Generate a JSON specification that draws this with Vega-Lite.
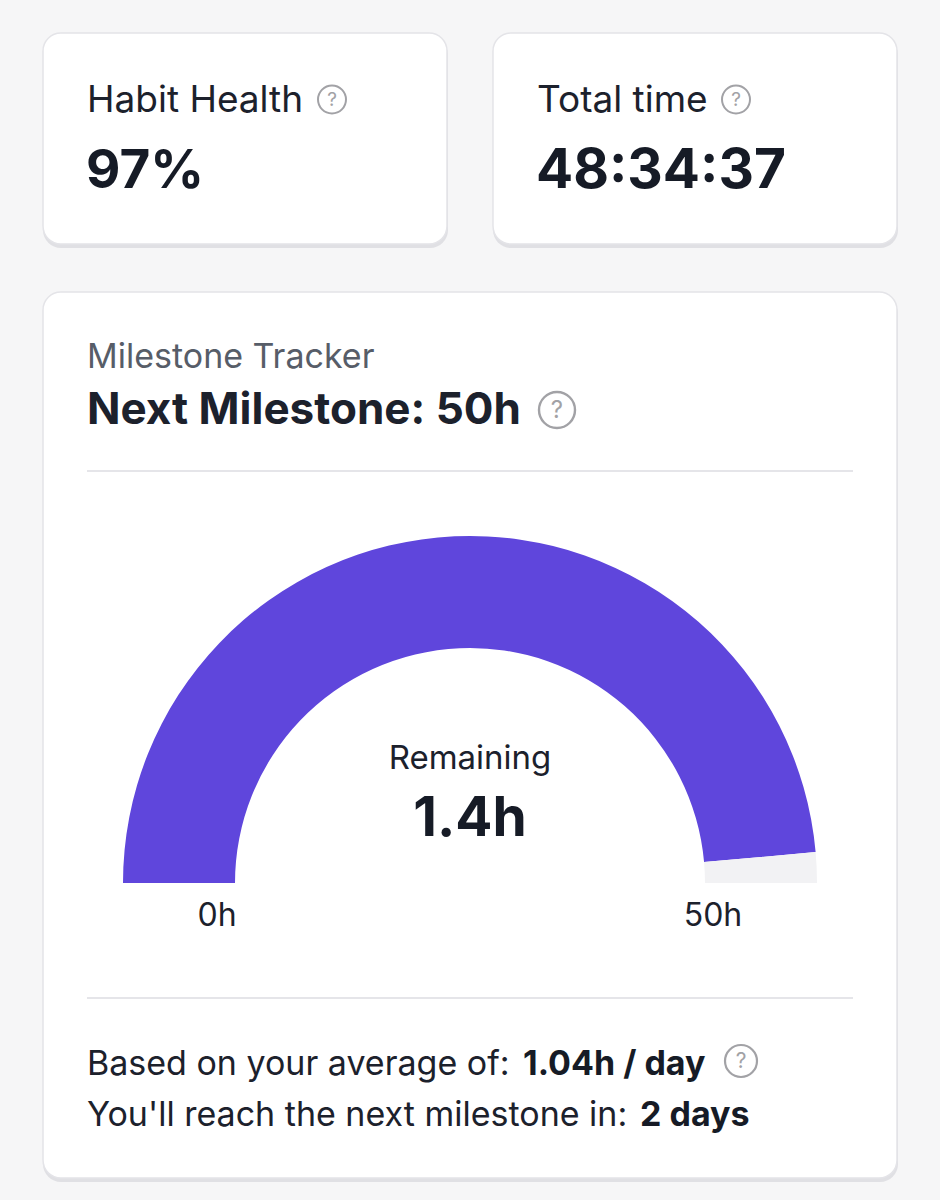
{
  "$schema": "https://vega.github.io/schema/vega-lite/v6.json",
  "width": 940,
  "height": 1200,
  "padding": 0,
  "autosize": {"type": "fit", "contains": "padding"},
  "background": "#f6f6f7",
  "config": {"view": {"stroke": null}, "font": "Inter", "text": {"font": "Inter"}},
  "data": {"values": [{"habit_health": "97%", "total_time": "48:34:37", "next_milestone": "Next Milestone: 50h", "remaining": "1.4h", "average": "1.04h / day", "eta": "2 days"}]},
  "layer": [
    {"mark": {"type": "rect", "fill": "#e0e0e4", "cornerRadius": 18},
     "encoding": {
       "x": {"datum": 43, "type": "quantitative", "scale": {"domain": [0, 940], "nice": false, "zero": false}, "axis": null},
       "x2": {"datum": 448},
       "y": {"datum": 37, "type": "quantitative", "scale": {"domain": [0, 1200], "nice": false, "zero": false, "reverse": true}, "axis": null},
       "y2": {"datum": 248}}},
    {"mark": {"type": "rect", "fill": "#e0e0e4", "cornerRadius": 18},
     "encoding": {
       "x": {"datum": 493, "type": "quantitative", "scale": {"domain": [0, 940], "nice": false, "zero": false}, "axis": null},
       "x2": {"datum": 898},
       "y": {"datum": 37, "type": "quantitative", "scale": {"domain": [0, 1200], "nice": false, "zero": false, "reverse": true}, "axis": null},
       "y2": {"datum": 248}}},
    {"mark": {"type": "rect", "fill": "#e0e0e4", "cornerRadius": 18},
     "encoding": {
       "x": {"datum": 43, "type": "quantitative", "scale": {"domain": [0, 940], "nice": false, "zero": false}, "axis": null},
       "x2": {"datum": 898},
       "y": {"datum": 296, "type": "quantitative", "scale": {"domain": [0, 1200], "nice": false, "zero": false, "reverse": true}, "axis": null},
       "y2": {"datum": 1182}}},
    {"mark": {"type": "rect", "fill": "#ffffff", "stroke": "#e4e4e8", "strokeWidth": 1.5, "cornerRadius": 18},
     "encoding": {
       "x": {"datum": 43, "type": "quantitative", "scale": {"domain": [0, 940], "nice": false, "zero": false}, "axis": null},
       "x2": {"datum": 447},
       "y": {"datum": 33, "type": "quantitative", "scale": {"domain": [0, 1200], "nice": false, "zero": false, "reverse": true}, "axis": null},
       "y2": {"datum": 244}}},
    {"mark": {"type": "rect", "fill": "#ffffff", "stroke": "#e4e4e8", "strokeWidth": 1.5, "cornerRadius": 18},
     "encoding": {
       "x": {"datum": 493, "type": "quantitative", "scale": {"domain": [0, 940], "nice": false, "zero": false}, "axis": null},
       "x2": {"datum": 897},
       "y": {"datum": 33, "type": "quantitative", "scale": {"domain": [0, 1200], "nice": false, "zero": false, "reverse": true}, "axis": null},
       "y2": {"datum": 244}}},
    {"mark": {"type": "rect", "fill": "#ffffff", "stroke": "#e4e4e8", "strokeWidth": 1.5, "cornerRadius": 18},
     "encoding": {
       "x": {"datum": 43, "type": "quantitative", "scale": {"domain": [0, 940], "nice": false, "zero": false}, "axis": null},
       "x2": {"datum": 897},
       "y": {"datum": 292, "type": "quantitative", "scale": {"domain": [0, 1200], "nice": false, "zero": false, "reverse": true}, "axis": null},
       "y2": {"datum": 1178}}},
    {"mark": {"type": "rule", "stroke": "#e5e5e9", "strokeWidth": 2},
     "encoding": {
       "x": {"datum": 87, "type": "quantitative", "scale": {"domain": [0, 940], "nice": false, "zero": false}, "axis": null},
       "x2": {"datum": 853},
       "y": {"datum": 471, "type": "quantitative", "scale": {"domain": [0, 1200], "nice": false, "zero": false, "reverse": true}, "axis": null}}},
    {"mark": {"type": "rule", "stroke": "#e5e5e9", "strokeWidth": 2},
     "encoding": {
       "x": {"datum": 87, "type": "quantitative", "scale": {"domain": [0, 940], "nice": false, "zero": false}, "axis": null},
       "x2": {"datum": 853},
       "y": {"datum": 998, "type": "quantitative", "scale": {"domain": [0, 1200], "nice": false, "zero": false, "reverse": true}, "axis": null}}},
    {"data": {"values": [{"part": "Completed", "hours": 48.58, "rank": 1}, {"part": "Remaining", "hours": 1.42, "rank": 2}]},
     "mark": {"type": "arc", "radius": 347, "radius2": 235},
     "encoding": {
       "x": {"datum": 470, "type": "quantitative", "scale": {"domain": [0, 940], "nice": false, "zero": false}, "axis": null},
       "y": {"datum": 883, "type": "quantitative", "scale": {"domain": [0, 1200], "nice": false, "zero": false, "reverse": true}, "axis": null},
       "theta": {"field": "hours", "type": "quantitative", "stack": true, "scale": {"domain": [0, 50], "range": [-1.5708, 1.5708], "zero": true, "nice": false}},
       "order": {"field": "rank", "type": "quantitative"},
       "color": {"field": "part", "type": "nominal", "scale": {"domain": ["Completed", "Remaining"], "range": ["#5f46dc", "#f2f2f4"]}, "legend": null}}},
    {"mark": {"type": "text", "text": "Habit Health", "fontSize": 37, "color": "#1c212c", "align": "left", "baseline": "alphabetic"},
     "encoding": {
       "x": {"datum": 87, "type": "quantitative", "scale": {"domain": [0, 940], "nice": false, "zero": false}, "axis": null},
       "y": {"datum": 112, "type": "quantitative", "scale": {"domain": [0, 1200], "nice": false, "zero": false, "reverse": true}, "axis": null}}},
    {"mark": {"type": "text", "fontSize": 53, "fontWeight": "bold", "color": "#161b26", "align": "left", "baseline": "alphabetic"},
     "encoding": {
       "text": {"field": "habit_health"},
       "x": {"datum": 86, "type": "quantitative", "scale": {"domain": [0, 940], "nice": false, "zero": false}, "axis": null},
       "y": {"datum": 188, "type": "quantitative", "scale": {"domain": [0, 1200], "nice": false, "zero": false, "reverse": true}, "axis": null}}},
    {"mark": {"type": "text", "text": "Total time", "fontSize": 37, "color": "#1c212c", "align": "left", "baseline": "alphabetic"},
     "encoding": {
       "x": {"datum": 537, "type": "quantitative", "scale": {"domain": [0, 940], "nice": false, "zero": false}, "axis": null},
       "y": {"datum": 112, "type": "quantitative", "scale": {"domain": [0, 1200], "nice": false, "zero": false, "reverse": true}, "axis": null}}},
    {"mark": {"type": "text", "fontSize": 55, "fontWeight": "bold", "color": "#161b26", "align": "left", "baseline": "alphabetic"},
     "encoding": {
       "text": {"field": "total_time"},
       "x": {"datum": 536, "type": "quantitative", "scale": {"domain": [0, 940], "nice": false, "zero": false}, "axis": null},
       "y": {"datum": 188, "type": "quantitative", "scale": {"domain": [0, 1200], "nice": false, "zero": false, "reverse": true}, "axis": null}}},
    {"mark": {"type": "text", "text": "Milestone Tracker", "fontSize": 34, "color": "#575d68", "align": "left", "baseline": "alphabetic"},
     "encoding": {
       "x": {"datum": 87, "type": "quantitative", "scale": {"domain": [0, 940], "nice": false, "zero": false}, "axis": null},
       "y": {"datum": 368, "type": "quantitative", "scale": {"domain": [0, 1200], "nice": false, "zero": false, "reverse": true}, "axis": null}}},
    {"mark": {"type": "text", "fontSize": 44, "fontWeight": "bold", "color": "#1c212c", "align": "left", "baseline": "alphabetic"},
     "encoding": {
       "text": {"field": "next_milestone"},
       "x": {"datum": 87, "type": "quantitative", "scale": {"domain": [0, 940], "nice": false, "zero": false}, "axis": null},
       "y": {"datum": 424, "type": "quantitative", "scale": {"domain": [0, 1200], "nice": false, "zero": false, "reverse": true}, "axis": null}}},
    {"mark": {"type": "text", "text": "Remaining", "fontSize": 33, "color": "#1c212c", "align": "center", "baseline": "alphabetic"},
     "encoding": {
       "x": {"datum": 470, "type": "quantitative", "scale": {"domain": [0, 940], "nice": false, "zero": false}, "axis": null},
       "y": {"datum": 769, "type": "quantitative", "scale": {"domain": [0, 1200], "nice": false, "zero": false, "reverse": true}, "axis": null}}},
    {"mark": {"type": "text", "fontSize": 55, "fontWeight": "bold", "color": "#161b26", "align": "center", "baseline": "alphabetic"},
     "encoding": {
       "text": {"field": "remaining"},
       "x": {"datum": 470, "type": "quantitative", "scale": {"domain": [0, 940], "nice": false, "zero": false}, "axis": null},
       "y": {"datum": 836, "type": "quantitative", "scale": {"domain": [0, 1200], "nice": false, "zero": false, "reverse": true}, "axis": null}}},
    {"mark": {"type": "text", "text": "0h", "fontSize": 32, "color": "#1c212c", "align": "center", "baseline": "alphabetic"},
     "encoding": {
       "x": {"datum": 217, "type": "quantitative", "scale": {"domain": [0, 940], "nice": false, "zero": false}, "axis": null},
       "y": {"datum": 926, "type": "quantitative", "scale": {"domain": [0, 1200], "nice": false, "zero": false, "reverse": true}, "axis": null}}},
    {"mark": {"type": "text", "text": "50h", "fontSize": 32, "color": "#1c212c", "align": "center", "baseline": "alphabetic"},
     "encoding": {
       "x": {"datum": 713, "type": "quantitative", "scale": {"domain": [0, 940], "nice": false, "zero": false}, "axis": null},
       "y": {"datum": 926, "type": "quantitative", "scale": {"domain": [0, 1200], "nice": false, "zero": false, "reverse": true}, "axis": null}}},
    {"mark": {"type": "text", "text": "Based on your average of:", "fontSize": 34, "color": "#1c212c", "align": "left", "baseline": "alphabetic"},
     "encoding": {
       "x": {"datum": 87, "type": "quantitative", "scale": {"domain": [0, 940], "nice": false, "zero": false}, "axis": null},
       "y": {"datum": 1075, "type": "quantitative", "scale": {"domain": [0, 1200], "nice": false, "zero": false, "reverse": true}, "axis": null}}},
    {"mark": {"type": "text", "fontSize": 34, "fontWeight": "bold", "color": "#161b26", "align": "left", "baseline": "alphabetic"},
     "encoding": {
       "text": {"field": "average"},
       "x": {"datum": 523, "type": "quantitative", "scale": {"domain": [0, 940], "nice": false, "zero": false}, "axis": null},
       "y": {"datum": 1075, "type": "quantitative", "scale": {"domain": [0, 1200], "nice": false, "zero": false, "reverse": true}, "axis": null}}},
    {"mark": {"type": "text", "text": "You'll reach the next milestone in:", "fontSize": 34, "color": "#1c212c", "align": "left", "baseline": "alphabetic"},
     "encoding": {
       "x": {"datum": 87, "type": "quantitative", "scale": {"domain": [0, 940], "nice": false, "zero": false}, "axis": null},
       "y": {"datum": 1126, "type": "quantitative", "scale": {"domain": [0, 1200], "nice": false, "zero": false, "reverse": true}, "axis": null}}},
    {"mark": {"type": "text", "fontSize": 34, "fontWeight": "bold", "color": "#161b26", "align": "left", "baseline": "alphabetic"},
     "encoding": {
       "text": {"field": "eta"},
       "x": {"datum": 640, "type": "quantitative", "scale": {"domain": [0, 940], "nice": false, "zero": false}, "axis": null},
       "y": {"datum": 1126, "type": "quantitative", "scale": {"domain": [0, 1200], "nice": false, "zero": false, "reverse": true}, "axis": null}}},
    {"mark": {"type": "point", "shape": "circle", "filled": false, "stroke": "#a2a2a6", "strokeWidth": 2, "size": 784, "opacity": 1},
     "encoding": {
       "x": {"datum": 332, "type": "quantitative", "scale": {"domain": [0, 940], "nice": false, "zero": false}, "axis": null},
       "y": {"datum": 99.5, "type": "quantitative", "scale": {"domain": [0, 1200], "nice": false, "zero": false, "reverse": true}, "axis": null}}},
    {"mark": {"type": "text", "text": "?", "fontSize": 19, "color": "#a2a2a6", "align": "center", "baseline": "middle"},
     "encoding": {
       "x": {"datum": 332, "type": "quantitative", "scale": {"domain": [0, 940], "nice": false, "zero": false}, "axis": null},
       "y": {"datum": 100, "type": "quantitative", "scale": {"domain": [0, 1200], "nice": false, "zero": false, "reverse": true}, "axis": null}}},
    {"mark": {"type": "point", "shape": "circle", "filled": false, "stroke": "#a2a2a6", "strokeWidth": 2, "size": 784, "opacity": 1},
     "encoding": {
       "x": {"datum": 736, "type": "quantitative", "scale": {"domain": [0, 940], "nice": false, "zero": false}, "axis": null},
       "y": {"datum": 99.5, "type": "quantitative", "scale": {"domain": [0, 1200], "nice": false, "zero": false, "reverse": true}, "axis": null}}},
    {"mark": {"type": "text", "text": "?", "fontSize": 19, "color": "#a2a2a6", "align": "center", "baseline": "middle"},
     "encoding": {
       "x": {"datum": 736, "type": "quantitative", "scale": {"domain": [0, 940], "nice": false, "zero": false}, "axis": null},
       "y": {"datum": 100, "type": "quantitative", "scale": {"domain": [0, 1200], "nice": false, "zero": false, "reverse": true}, "axis": null}}},
    {"mark": {"type": "point", "shape": "circle", "filled": false, "stroke": "#a2a2a6", "strokeWidth": 2.4, "size": 1296, "opacity": 1},
     "encoding": {
       "x": {"datum": 557, "type": "quantitative", "scale": {"domain": [0, 940], "nice": false, "zero": false}, "axis": null},
       "y": {"datum": 410, "type": "quantitative", "scale": {"domain": [0, 1200], "nice": false, "zero": false, "reverse": true}, "axis": null}}},
    {"mark": {"type": "text", "text": "?", "fontSize": 24, "color": "#a2a2a6", "align": "center", "baseline": "middle"},
     "encoding": {
       "x": {"datum": 557, "type": "quantitative", "scale": {"domain": [0, 940], "nice": false, "zero": false}, "axis": null},
       "y": {"datum": 411, "type": "quantitative", "scale": {"domain": [0, 1200], "nice": false, "zero": false, "reverse": true}, "axis": null}}},
    {"mark": {"type": "point", "shape": "circle", "filled": false, "stroke": "#a2a2a6", "strokeWidth": 2.2, "size": 1024, "opacity": 1},
     "encoding": {
       "x": {"datum": 741, "type": "quantitative", "scale": {"domain": [0, 940], "nice": false, "zero": false}, "axis": null},
       "y": {"datum": 1061, "type": "quantitative", "scale": {"domain": [0, 1200], "nice": false, "zero": false, "reverse": true}, "axis": null}}},
    {"mark": {"type": "text", "text": "?", "fontSize": 21, "color": "#a2a2a6", "align": "center", "baseline": "middle"},
     "encoding": {
       "x": {"datum": 741, "type": "quantitative", "scale": {"domain": [0, 940], "nice": false, "zero": false}, "axis": null},
       "y": {"datum": 1062, "type": "quantitative", "scale": {"domain": [0, 1200], "nice": false, "zero": false, "reverse": true}, "axis": null}}}
  ]
}
